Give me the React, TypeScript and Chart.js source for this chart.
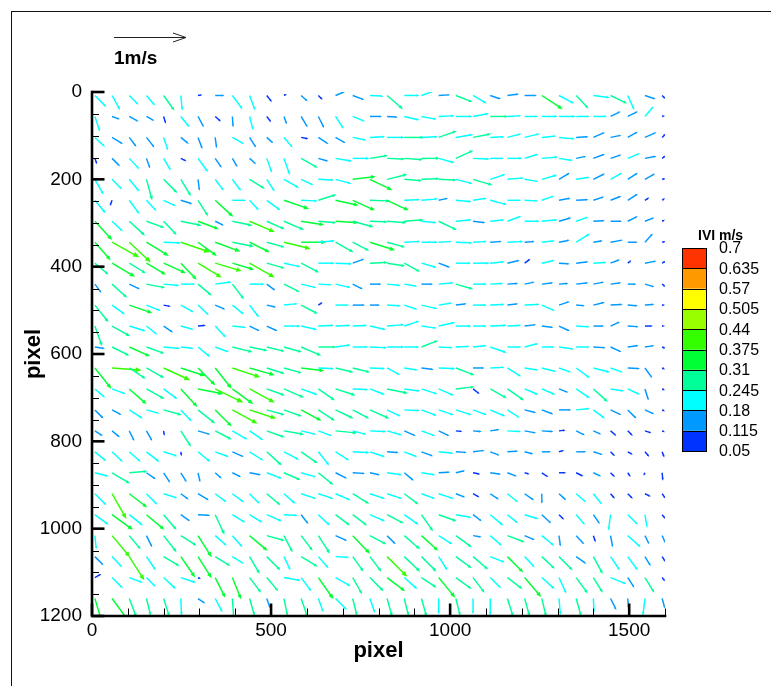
import React, { useEffect, useRef } from "react";
import { Chart, registerables } from "chart.js";

Chart.register(...registerables);

// ---------------- DATA ----------------
// grid point locations (pixel units of the PIV image)
const xGrid = [8, 56, 104, 152, 200, 248, 296, 344, 392, 440, 488, 536, 584, 632, 680, 728, 776,
  824, 872, 920, 968, 1016, 1064, 1112, 1160, 1208, 1256, 1304, 1352, 1400, 1448, 1496, 1544, 1592];
const yGrid = [8, 56, 104, 152, 200, 248, 296, 344, 392, 440, 488, 536, 584, 632, 680, 728, 776,
  824, 872, 920, 968, 1016, 1064, 1112, 1160];

// velocity components (m/s); u to the right, v downward (image direction)
const u00 = [0.16, 0.11, 0.13, 0.12, 0.15, 0.02, 0.06, 0.13, 0.14, 0.08, 0.07, 0.04, 0.09, 0.06, 0.14, 0.16, 0.19, 0.22, 0.21, 0.17, 0.16, 0.23, 0.19, 0.15, 0.16, 0.17, 0.29, 0.21, 0.17, 0.23, 0.23, 0.09, 0.15, 0.05];
const v00 = [0.16, 0.20, 0.13, 0.14, 0.21, 0.21, -0.01, 0, 0.19, 0.21, 0.09, -0.02, 0.08, 0.06, -0.06, 0.06, 0.01, 0.19, 0, -0.06, -0.01, 0.09, 0.11, 0.05, -0.02, 0, 0.19, 0.11, 0.18, 0.03, 0.11, 0.20, 0.05, 0.05];
const u01 = [0.07, 0.11, 0.13, 0.11, 0.03, 0.12, 0.08, 0.08, 0.01, 0.05, 0.06, 0.04, 0.09, 0.08, 0.11, 0.17, 0.17, 0.15, 0.21, 0.21, 0.22, 0.23, 0.22, 0.25, 0.19, 0.19, 0.22, 0.23, 0.19, 0.19, 0.14, 0.14, 0.12, 0.04];
const v01 = [0.21, 0.04, 0.07, 0.06, 0.10, 0.15, 0.15, 0.07, 0.15, 0.19, 0.08, 0.11, 0.15, 0.16, 0.17, 0.07, 0, 0.01, 0.05, 0.04, -0.01, 0, -0.04, 0, -0.01, 0, 0, 0, 0, 0, -0.07, -0.07, -0.14, -0.01];
const u02 = [0.14, 0.15, 0.10, 0.11, 0.06, 0.11, 0.06, 0.02, 0.16, 0.09, 0.09, 0.12, 0.10, 0.14, 0.14, 0.19, 0.21, 0.24, 0.28, 0.23, 0.25, 0.24, 0.25, 0.20, 0.19, 0.21, 0.20, 0.22, 0.17, 0.16, 0.15, 0.14, 0.16, 0.05];
const v02 = [0.13, 0.09, 0.13, 0.14, 0.18, 0.09, 0.16, 0.15, 0.09, 0.14, 0.08, 0.14, 0.02, 0.09, 0.08, 0.04, -0.01, 0, 0, -0.01, -0.09, -0.04, -0.05, -0.01, -0.05, -0.05, -0.02, 0.02, -0.01, -0.07, -0.03, -0.08, -0.07, -0.05];
const u03 = [0.03, 0.11, 0.14, 0.05, 0.10, 0.08, 0.14, 0.09, 0.07, 0.09, 0.07, 0.08, 0.23, 0.14, 0.23, 0.23, 0.25, 0.25, 0.26, 0.25, 0.22, 0.24, 0.23, 0.19, 0.21, 0.19, 0.23, 0.19, 0.14, 0.16, 0.15, 0.17, 0.16, 0.05];
const v03 = [0.08, 0.11, 0.15, 0.14, 0.17, 0.04, 0.19, 0.13, 0.12, 0.08, 0.20, 0.23, 0.13, 0.04, 0.04, 0, -0.04, 0.01, 0.02, 0, 0.06, -0.11, 0.01, 0, 0, -0.06, -0.02, 0.03, -0.03, -0.06, -0.05, -0.07, -0.03, -0.04];
const u04 = [0.12, 0.14, 0.14, 0.08, 0.19, 0.14, 0.02, 0.12, 0.12, 0.21, 0.11, 0.21, 0.17, 0.22, 0.22, 0.32, 0.31, 0.28, 0.25, 0.25, 0.25, 0.23, 0.27, 0.21, 0.23, 0.19, 0.21, 0.15, 0.19, 0.16, 0.16, 0.14, 0.14, 0.05];
const v04 = [0.21, 0.14, 0.17, 0.29, 0.19, 0.23, 0.16, 0.16, 0.16, 0.13, 0.17, 0.12, 0.08, 0.01, 0.06, -0.04, 0.15, -0.07, 0.02, -0.01, 0.01, 0.06, 0.08, -0.07, -0.02, 0.03, -0.06, -0.09, -0.03, -0.08, -0.09, -0.09, -0.08, -0.01];
const u05 = [0.15, -0.03, 0.14, 0.14, 0.17, 0.16, 0.14, 0.25, 0.19, 0.13, 0.19, 0.35, 0.23, 0.25, 0.32, 0.31, 0.28, 0.30, 0.22, 0.23, 0.13, 0.22, 0.19, 0.23, 0.19, 0.19, 0.17, 0.16, 0.17, 0.15, 0.15, 0.14, 0.06, 0.04];
const v05 = [0.18, 0.08, 0.19, 0.15, 0.08, 0.05, 0.22, 0.23, 0, 0.14, 0.14, 0.12, 0.01, -0.08, 0.07, 0.14, 0.01, 0.14, -0.01, -0.02, -0.03, 0.02, -0.03, 0.06, 0, 0.01, -0.06, -0.03, -0.01, -0.05, -0.06, -0.09, -0.04, -0.03];
const u06 = [0.24, 0.15, 0.22, 0.25, 0.18, 0.29, 0.29, 0.12, 0.28, 0.35, 0.25, 0.28, 0.32, 0.25, 0.32, 0.29, 0.25, 0.27, 0.27, 0.21, 0.25, 0.22, 0.17, 0.20, 0.19, 0.21, 0.22, 0.17, 0.17, 0.16, 0.16, 0.14, 0.13, 0.04];
const v06 = [0.26, 0.14, 0.20, 0.09, 0.19, 0.06, 0.11, 0.06, 0.06, 0.15, 0.11, 0.12, 0.05, 0.02, 0.02, 0.08, 0.01, 0.02, -0.02, 0.02, 0.12, -0.02, 0.02, -0.02, -0.07, 0, -0.02, -0.05, -0.06, -0.01, 0, -0.07, -0.05, -0.02];
const u07 = [0.22, 0.38, 0.30, 0.31, 0.24, 0.41, 0.26, 0.35, 0.30, 0.28, 0.25, 0.37, 0.35, 0.23, 0.25, 0.23, 0.35, 0.25, 0.22, 0.23, 0.18, 0.23, 0.19, 0.16, 0.22, 0.14, 0.18, 0.15, 0.19, 0.13, 0.17, 0.14, 0.11, 0.05];
const v07 = [0.25, 0.21, 0.28, 0.19, 0.01, 0.14, 0.19, 0.13, 0.06, 0.14, 0.07, 0.09, 0, -0.02, 0.14, 0.12, 0.11, 0.07, -0.01, 0, -0.01, 0.01, -0.01, -0.01, -0.01, -0.01, -0.02, -0.03, -0.12, -0.02, -0.03, 0, -0.12, -0.01];
const u08 = [0.19, 0.32, 0.23, 0.27, 0.31, 0.22, 0.33, 0.37, 0.30, 0.35, 0.25, 0.23, 0.25, 0.23, 0.23, 0.16, 0.25, 0.25, 0.22, 0.21, 0.16, 0.21, 0.23, 0.20, 0.17, 0.08, 0.18, 0.15, 0.17, 0.18, 0.13, 0.05, 0.16, 0.05];
const v08 = [0.16, 0.19, 0.14, 0.16, 0.14, 0.23, 0.20, 0.11, 0.09, 0.20, 0.07, 0.05, 0.13, 0, 0.01, -0.06, -0.01, 0.04, 0.12, 0.06, 0.06, 0, 0, -0.02, -0.04, -0.06, -0.04, 0.01, -0.02, -0.01, -0.05, -0.04, -0.03, -0.03];
const u09 = [0.09, 0.21, 0.15, 0.26, 0.22, 0.20, 0.19, 0.23, 0.16, 0.21, 0.12, 0.22, 0.21, 0.19, 0.21, 0.14, 0.16, 0.19, 0.18, 0.16, 0.21, 0.24, 0.19, 0.18, 0.15, 0.14, 0.16, 0.13, 0.17, 0.15, 0.15, 0.12, 0.13, 0.05];
const v09 = [0.12, 0.19, 0.07, 0.05, 0.02, 0, 0.16, -0.03, 0.21, 0, 0.09, 0.11, 0.05, 0.01, 0.05, 0.07, 0, 0.02, 0.03, 0, -0.02, 0.07, 0, -0.01, -0.01, -0.03, -0.02, -0.01, -0.02, -0.03, -0.02, 0, 0.04, 0.04];
const u10 = [0.19, 0.18, 0.32, 0.20, 0.10, 0.18, 0.15, 0.14, 0.16, 0.13, 0.13, 0.19, 0.23, 0.06, 0.19, 0.17, 0.14, 0.19, 0.18, 0.22, 0.19, 0.15, 0.19, 0.20, 0.15, 0.21, 0.18, 0.15, 0.12, 0.16, 0.17, 0.14, 0.13, 0.04];
const v10 = [0.24, 0.13, 0.11, 0.08, 0.02, 0.10, 0.14, 0.06, 0.13, 0.17, 0.03, -0.02, 0.12, -0.04, 0, 0, 0, 0.01, 0.06, 0.05, -0.03, -0.02, 0, -0.01, -0.02, -0.01, 0.08, -0.05, 0.01, -0.04, -0.01, 0.01, -0.01, 0];
const u11 = [0.10, 0.25, 0.23, 0.15, 0.13, 0.18, 0.11, 0.15, 0.19, 0.14, 0.15, 0.23, 0.22, 0.22, 0.21, 0.20, 0.22, 0.24, 0.21, 0.21, 0.23, 0.22, 0.19, 0.23, 0.19, 0.16, 0.16, 0.15, 0.19, 0.15, 0.13, 0.15, 0.11, 0.04];
const v11 = [0.28, 0.14, 0.07, 0.12, 0.09, 0.05, -0.01, 0.16, 0.02, 0.07, 0.07, 0, 0.05, -0.01, -0.01, -0.01, 0.05, -0.02, -0.07, 0.03, -0.05, 0, 0, -0.01, -0.01, -0.02, 0.02, 0.07, 0.01, 0, -0.06, 0.01, 0, 0];
const u12 = [0.14, 0.24, 0.29, 0.25, 0.23, 0.18, 0.17, 0.19, 0.28, 0.25, 0.25, 0.25, 0.28, 0.25, 0.21, 0.22, 0.24, 0.24, 0.21, 0.23, 0.20, 0.19, 0.19, 0.23, 0.19, 0.19, 0.18, 0.21, 0.19, 0.17, 0.15, 0.15, 0.13, 0.05];
const v12 = [0.02, 0.12, 0.13, 0.09, 0.02, 0.02, 0.14, 0.07, 0.07, 0.05, 0.06, 0.07, 0.12, 0, -0.03, 0, 0.01, 0, 0, -0.09, 0.01, -0.01, -0.02, 0.08, 0, -0.05, 0, 0.03, 0, 0.01, 0.07, -0.02, -0.02, 0.02];
const u13 = [0.23, 0.41, 0.23, 0.25, 0.37, 0.34, 0.24, 0.23, 0.39, 0.35, 0.25, 0.25, 0.32, 0.22, 0.25, 0.24, 0.21, 0.18, 0.19, 0.17, 0.23, 0.26, 0.16, 0.20, 0.19, 0.19, 0.20, 0.17, 0.19, 0.23, 0.17, 0.17, 0.10, 0.04];
const v13 = [0.29, 0.03, 0.15, 0.14, 0.17, 0.11, 0.24, 0.29, 0.13, 0.10, 0.08, 0.07, 0.04, 0.01, 0.06, 0.06, 0.01, 0.10, 0.03, 0.02, 0.01, 0.10, 0, -0.01, 0.12, 0.03, 0.05, 0.06, 0.14, 0.06, 0.06, 0.01, 0.14, 0.02];
const u14 = [0.14, 0.19, 0.24, 0.25, 0.19, 0.23, 0.35, 0.39, 0.29, 0.35, 0.25, 0.28, 0.23, 0.23, 0.28, 0.22, 0.21, 0.29, 0.22, 0.22, 0.21, 0.26, 0.09, 0.23, 0.23, 0.19, 0.19, 0.13, 0.19, 0.20, 0.19, 0.17, 0.05, 0.04];
const v14 = [0.12, 0.07, 0.21, 0.14, 0.14, 0.25, 0.07, 0.19, 0.21, 0.19, 0.09, 0.12, 0.08, 0.16, 0.09, 0.01, 0.08, 0.06, 0.03, 0.07, 0.09, -0.03, 0.07, 0.13, 0.16, 0.08, 0.08, 0.05, 0.13, 0.18, 0.03, 0.08, 0.16, 0.02];
const u15 = [0.12, 0.13, 0.19, 0.18, 0.25, 0.15, 0.24, 0.23, 0.35, 0.37, 0.25, 0.25, 0.28, 0.23, 0.25, 0.23, 0.27, 0.19, 0.22, 0.21, 0.21, 0.22, 0.19, 0.21, 0.17, 0.16, 0.16, 0.17, 0.19, 0.16, 0.15, 0.12, 0.13, 0.04];
const v15 = [0.12, 0.07, 0.12, 0.05, 0.07, 0.16, 0.19, 0.23, 0.19, 0.12, 0.07, 0.09, 0.15, 0.15, 0.12, 0.12, 0.12, 0.09, 0.01, 0.08, 0.07, 0.07, 0.07, 0.09, 0.11, 0.04, 0.06, 0, -0.02, 0.12, 0.07, 0.12, 0.06, 0.02];
const u16 = [0.11, 0.11, 0.07, 0.08, 0.01, 0.14, 0.17, 0.23, 0.21, 0.19, 0.25, 0.28, 0.21, 0.19, 0.30, 0.19, 0.23, 0.21, 0.16, 0.19, 0.15, 0.09, 0.12, 0.13, 0.19, 0.16, 0.16, 0.09, 0.12, 0.11, 0.08, 0.07, 0.09, 0.04];
const v16 = [0.07, 0.09, 0.14, 0.14, 0.07, 0.22, 0.05, 0.12, 0.12, 0.13, 0.09, 0.05, 0.05, 0.07, 0.03, 0.05, 0.01, 0.06, 0.07, 0.07, 0.07, 0.01, 0.01, -0.02, 0.01, 0.03, 0.01, -0.01, 0.06, 0.05, 0.07, 0.07, 0.03, 0.02];
const u17 = [0.16, 0.15, 0.16, 0.18, 0.19, 0.01, 0.17, 0.19, 0.16, 0.19, 0.21, 0.21, 0.23, 0.15, 0.19, 0.23, 0.21, 0.16, 0.18, 0.16, 0.21, 0.15, 0.16, 0.13, 0.15, 0.12, 0.13, 0.07, 0.14, 0.13, 0.06, 0.07, 0.06, 0.03];
const v17 = [0.13, 0.14, 0.14, 0.14, 0.06, 0.06, 0.14, 0.07, 0.07, 0.12, 0.19, 0.11, 0.16, 0.19, 0.12, 0.01, 0.07, 0.01, 0.07, 0.06, 0.02, 0.01, -0.02, 0.05, -0.01, 0.03, 0, -0.02, 0, 0.04, 0.06, 0.04, 0.07, 0.08];
const u18 = [0.19, 0.25, 0.25, 0.13, 0.09, 0.08, 0.03, 0.09, 0.12, 0.16, 0.21, 0.23, 0.21, 0.21, 0.16, 0.17, 0.14, 0.21, 0.13, 0.19, 0.16, 0.13, 0.10, 0.15, 0.13, 0.07, 0.09, 0.10, 0.10, 0.11, 0.06, 0.04, -0.02, 0.01];
const v18 = [0.05, 0.15, -0.02, 0.09, 0.14, 0.13, 0.13, 0.08, 0.06, 0.03, 0.08, 0.10, 0.06, 0.17, 0.08, 0.01, 0.03, 0.03, 0.11, 0.03, -0.01, -0.03, 0.02, 0.02, 0.05, 0.02, 0.06, 0, 0.05, 0.05, 0.06, 0.06, 0.04, 0.11];
const u19 = [0.16, 0.20, 0.25, 0.15, 0.19, 0.11, 0.15, 0.16, 0.16, 0.14, 0.19, 0.16, 0.21, 0.21, 0.21, 0.23, 0.21, 0.21, 0.20, 0.19, 0.21, 0.13, 0.09, 0.12, 0.15, 0.13, 0.00, 0.10, 0.14, 0.12, 0.06, 0.07, 0.08, 0.05];
const v19 = [0.16, 0.35, 0.19, 0.15, 0.06, 0.08, 0.09, 0.12, 0.12, 0.14, 0.16, 0.14, 0.07, 0.07, 0.09, 0.14, 0.07, 0.07, 0.15, 0.07, 0.07, 0.05, 0.05, 0.08, 0.12, 0.09, 0.14, 0.09, 0.12, 0.15, 0.07, 0.07, 0.04, 0.07];
const u20 = [0.19, 0.29, 0.19, 0.25, 0.18, 0.13, 0.17, 0.13, 0.18, 0.18, 0.21, 0.19, 0.10, 0.16, 0.20, 0.20, 0.21, 0.23, 0.20, 0.16, 0.25, 0.22, 0.12, 0.18, 0.15, 0.19, 0.13, 0.07, 0.12, 0.09, -0.03, 0.14, 0.03, 0.05];
const v20 = [0.14, 0.21, 0.15, 0.21, 0.21, 0.09, 0.01, 0.28, 0.11, 0.11, 0.09, 0.01, 0.13, 0.15, 0.15, 0.15, 0.09, 0.12, 0.14, 0.23, 0.09, 0.04, 0.09, 0.15, 0.12, 0.06, 0.12, 0.07, 0.14, 0.13, 0.22, 0.14, 0.18, 0.06];
const u21 = [0.02, 0.25, 0.16, 0.08, 0.18, 0.22, 0.19, 0.16, 0.14, 0.25, 0.25, 0.12, 0.16, 0.16, 0.16, 0.24, 0.23, 0.12, 0.22, 0.23, 0.19, 0.22, 0.12, 0.16, 0.24, 0.14, 0.17, 0.02, 0.11, 0.03, 0.03, 0.18, 0.06, 0.05];
const v21 = [0.19, 0.30, 0.19, 0.16, 0.23, 0.14, 0.30, 0.14, 0.16, 0.21, 0.07, 0.23, 0.21, 0.25, 0.07, 0.25, 0.12, 0.12, 0.19, 0.21, 0.12, 0.16, 0.02, 0.14, 0.09, 0.06, 0.14, 0.15, 0.12, 0.09, 0.16, 0.16, 0.12, 0.11];
const u22 = [0.12, 0.14, 0.21, 0.13, 0.22, 0.20, 0.19, 0.21, 0.16, 0.14, 0.19, 0.09, 0.23, 0.14, 0.19, 0.15, 0.16, 0.28, 0.22, 0.21, 0.12, 0.22, 0.21, 0.20, 0.22, 0.14, 0.18, 0.19, 0.14, 0.13, 0.13, 0.14, 0.08, 0.05];
const v22 = [0.12, 0.15, 0.33, 0.19, 0.13, 0.29, 0.30, 0.13, 0.10, 0.24, 0.19, 0.19, 0.14, 0.16, 0.01, 0.21, 0.21, 0.28, 0.21, 0.21, 0.19, 0.16, 0.18, 0.08, 0.22, 0.15, 0.17, 0.19, 0.10, 0.24, 0.19, 0.19, 0.13, 0.08];
const u23 = [0.09, 0.15, 0.19, 0.13, 0.17, 0.21, 0.04, 0.14, 0.12, 0.16, 0.16, 0.23, 0.14, 0.21, 0.21, 0.13, 0.19, 0.25, 0.18, 0.21, 0.23, 0.22, 0.16, 0.15, 0.21, 0.23, 0.18, 0.10, 0.16, 0.13, 0.22, 0.09, 0.13, 0.04];
const v23 = [-0.05, 0.15, 0.07, 0.13, 0.16, 0.07, 0.02, 0.28, 0.30, 0.21, 0.19, 0.04, 0.19, 0.30, 0.12, 0.23, 0.19, 0.19, 0.16, 0.14, 0.28, 0.16, 0.21, 0.15, 0.16, 0.27, 0.16, 0.22, 0.22, 0.21, 0.09, 0.14, 0.21, 0.05];
const u24 = [0.09, 0.22, 0.10, 0.06, 0.08, 0.01, 0.10, 0.10, 0.02, 0.07, 0.05, 0.05, 0.09, 0.07, 0.16, 0.06, 0.07, 0.07, 0.06, 0.07, 0.00, 0.06, 0.00, 0.00, 0.08, 0.07, 0.06, 0.02, 0.07, 0.01, 0.08, 0.01, -0.03, 0.04];
const v24 = [0.30, 0.30, 0.26, 0.24, 0.25, 0.24, 0.07, 0.19, 0.30, 0.24, 0.14, 0.24, 0.26, 0.19, 0.16, 0.24, 0.20, 0.25, 0.24, 0.25, 0.22, 0.24, 0.22, 0.24, 0.25, 0.25, 0.25, 0.23, 0.25, 0.19, 0.16, 0.14, 0.24, 0.14];

const uRows = [u00, u01, u02, u03, u04, u05, u06, u07, u08, u09, u10, u11, u12, u13, u14, u15, u16, u17, u18, u19, u20, u21, u22, u23, u24];
const vRows = [v00, v01, v02, v03, v04, v05, v06, v07, v08, v09, v10, v11, v12, v13, v14, v15, v16, v17, v18, v19, v20, v21, v22, v23, v24];

// axes / legend
const xTickValues = [0, 500, 1000, 1500];
const xMinorTicks = [100, 200, 300, 400, 600, 700, 800, 900, 1100, 1200, 1300, 1400, 1600];
const yTickValues = [0, 200, 400, 600, 800, 1000, 1200];
const yMinorTicks = [50, 100, 150, 250, 300, 350, 450, 500, 550, 650, 700, 750, 850, 900, 950, 1050, 1100, 1150];
const legendLevels = [0.05, 0.115, 0.18, 0.245, 0.31, 0.375, 0.44, 0.505, 0.57, 0.635, 0.7];
const legendTitle = "IVI m/s";
const refSpeed = 1;
const refLabel = "1m/s";
const xTitle = "pixel";
const yTitle = "pixel";

// ---------------- STYLE ----------------
const W = 771;
const H = 686;
const REF_PX = 72; // screen length of a 1 m/s vector
const FONT = "'Liberation Sans', Arial, Helvetica, sans-serif";
const CMAP: [number, number[]][] = [
  [0, [0, 0, 255]],
  [0.25, [0, 255, 255]],
  [0.5, [0, 255, 0]],
  [0.75, [255, 255, 0]],
  [1, [255, 0, 0]],
];

function cmap(s: number): string {
  const t = Math.max(0, Math.min(1, s));
  for (let i = 0; i < CMAP.length - 1; i++) {
    const [a, ca] = CMAP[i];
    const [b, cb] = CMAP[i + 1];
    if (t <= b) {
      const f = (t - a) / (b - a);
      const c = ca.map((v, k) => Math.round(v + (cb[k] - v) * f));
      return `rgb(${c[0]},${c[1]},${c[2]})`;
    }
  }
  return "rgb(255,0,0)";
}

const nBands = legendLevels.length - 1;
function bandIndex(m: number): number {
  for (let i = 0; i < nBands; i++) {
    if (m < legendLevels[i + 1]) return i;
  }
  return nBands - 1;
}
function bandColor(i: number): string {
  return cmap((i + 0.5) / nBands);
}

function drawArrow(ctx: CanvasRenderingContext2D, x0: number, y0: number, dx: number, dy: number, color: string) {
  const len = Math.hypot(dx, dy);
  if (len < 0.3) return;
  const ux = dx / len;
  const uy = dy / len;
  const hl = Math.min(7, Math.max(2.5, len * 0.2));
  const hw = hl * 0.42;
  const x1 = x0 + dx;
  const y1 = y0 + dy;
  const bx = x1 - ux * hl;
  const by = y1 - uy * hl;
  ctx.strokeStyle = color;
  ctx.fillStyle = color;
  ctx.lineWidth = 1.45;
  ctx.beginPath();
  ctx.moveTo(x0, y0);
  ctx.lineTo(bx + ux * 0.5, by + uy * 0.5);
  ctx.stroke();
  ctx.beginPath();
  ctx.moveTo(x1, y1);
  ctx.lineTo(bx - uy * hw, by + ux * hw);
  ctx.lineTo(bx + uy * hw, by - ux * hw);
  ctx.closePath();
  ctx.fill();
}

const quiverPlugin = {
  id: "quiver",
  afterDatasetsDraw(chart: any) {
    const ctx: CanvasRenderingContext2D = chart.ctx;
    const a = chart.chartArea;
    const meta = chart.getDatasetMeta(0);
    const raw = chart.data.datasets[0].data as any[];
    ctx.save();
    ctx.beginPath();
    ctx.rect(a.left, a.top, a.right - a.left, a.bottom - a.top);
    ctx.clip();
    meta.data.forEach((el: any, i: number) => {
      const d = raw[i];
      if (!d || d.u === undefined || d.v === undefined) return;
      const m = Math.hypot(d.u, d.v);
      drawArrow(ctx, el.x, el.y, d.u * REF_PX, d.v * REF_PX, bandColor(bandIndex(m)));
    });
    ctx.restore();
  },
  afterDraw(chart: any) {
    const ctx: CanvasRenderingContext2D = chart.ctx;
    const a = chart.chartArea;
    const xs = chart.scales.x;
    const ys = chart.scales.y;
    ctx.save();

    // outer frame
    ctx.strokeStyle = "#111";
    ctx.lineWidth = 1;
    ctx.strokeRect(11.5, 11.5, W + 40, H + 40);

    // axis lines
    ctx.strokeStyle = "#000";
    ctx.lineWidth = 2.6;
    ctx.lineCap = "square";
    ctx.beginPath();
    ctx.moveTo(a.left, a.top);
    ctx.lineTo(a.left, a.bottom);
    ctx.lineTo(a.right, a.bottom);
    ctx.stroke();
    ctx.lineCap = "butt";

    // ticks (inward)
    yTickValues.forEach((v) => {
      const y = ys.getPixelForValue(v);
      ctx.lineWidth = 2.6;
      ctx.beginPath();
      ctx.moveTo(a.left, y);
      ctx.lineTo(a.left + 12.5, y);
      ctx.stroke();
    });
    yMinorTicks.forEach((v) => {
      const y = Math.round(ys.getPixelForValue(v)) + 0.5;
      ctx.lineWidth = 1;
      ctx.beginPath();
      ctx.moveTo(a.left, y);
      ctx.lineTo(a.left + 7, y);
      ctx.stroke();
    });
    xTickValues.forEach((v) => {
      const x = xs.getPixelForValue(v);
      ctx.lineWidth = 2.6;
      ctx.beginPath();
      ctx.moveTo(x, a.bottom);
      ctx.lineTo(x, a.bottom - 12.5);
      ctx.stroke();
    });
    xMinorTicks.forEach((v) => {
      const x = Math.round(xs.getPixelForValue(v)) + 0.5;
      ctx.lineWidth = 1;
      ctx.beginPath();
      ctx.moveTo(x, a.bottom);
      ctx.lineTo(x, a.bottom - 7.5);
      ctx.stroke();
    });

    // axis titles
    ctx.fillStyle = "#000";
    ctx.font = `bold 22px ${FONT}`;
    ctx.textAlign = "center";
    ctx.textBaseline = "alphabetic";
    ctx.fillText(xTitle, (a.left + a.right) / 2, 657);
    ctx.save();
    ctx.translate(40, (a.top + a.bottom) / 2);
    ctx.rotate(-Math.PI / 2);
    ctx.fillText(yTitle, 0, 0);
    ctx.restore();

    // reference vector
    const rx = 114;
    const ry = 37;
    const rl = refSpeed * REF_PX;
    ctx.strokeStyle = "#222";
    ctx.lineWidth = 1;
    ctx.beginPath();
    ctx.moveTo(rx, ry + 0.5);
    ctx.lineTo(rx + rl, ry + 0.5);
    ctx.moveTo(rx + rl - 13, ry - 4);
    ctx.lineTo(rx + rl, ry + 0.5);
    ctx.lineTo(rx + rl - 13, ry + 5);
    ctx.stroke();
    ctx.font = `bold 19px ${FONT}`;
    ctx.textAlign = "left";
    ctx.fillStyle = "#000";
    ctx.fillText(refLabel, rx, 64);

    // colour legend
    const bx = 682;
    const bw = 24;
    const bTop = 248;
    const bBot = 451;
    const bh = (bBot - bTop) / nBands;
    for (let i = 0; i < nBands; i++) {
      const y1 = bBot - (i + 1) * bh;
      ctx.fillStyle = bandColor(i);
      ctx.fillRect(bx, y1, bw, bh);
    }
    ctx.strokeStyle = "#000";
    ctx.lineWidth = 1;
    for (let i = 1; i < nBands; i++) {
      const y = Math.round(bBot - i * bh) + 0.5;
      ctx.beginPath();
      ctx.moveTo(bx, y);
      ctx.lineTo(bx + bw, y);
      ctx.stroke();
    }
    ctx.strokeRect(bx + 0.5, bTop + 0.5, bw, bBot - bTop);
    ctx.fillStyle = "#000";
    ctx.font = `16px ${FONT}`;
    ctx.textAlign = "left";
    ctx.textBaseline = "middle";
    legendLevels.forEach((lv, i) => {
      ctx.fillText(String(lv), 719, bBot - i * bh + 1);
    });
    ctx.font = `bold 14px ${FONT}`;
    ctx.textBaseline = "alphabetic";
    ctx.fillText(legendTitle, 698, 240);

    ctx.restore();
  },
};

export default function App() {
  const ref = useRef<HTMLCanvasElement | null>(null);

  useEffect(() => {
    if (!ref.current) return;
    const points: any[] = [];
    yGrid.forEach((y, r) => {
      xGrid.forEach((x, c) => {
        points.push({ x, y, u: uRows[r][c], v: vRows[r][c] });
      });
    });

    const chart = new Chart(ref.current, {
      type: "scatter",
      data: {
        datasets: [
          {
            data: points,
            pointRadius: 0,
            pointHoverRadius: 0,
            showLine: false,
          },
        ],
      },
      options: {
        responsive: false,
        animation: false,
        devicePixelRatio: 1,
        events: [],
        layout: { padding: { left: 12, right: W - 665, top: 92, bottom: 10 } },
        plugins: {
          legend: { display: false },
          tooltip: { enabled: false },
          title: { display: false },
        },
        scales: {
          x: {
            type: "linear",
            min: 0,
            max: 1600,
            grid: { display: false, drawTicks: false },
            border: { display: false },
            afterBuildTicks: (s: any) => {
              s.ticks = xTickValues.map((value) => ({ value }));
            },
            afterFit: (s: any) => {
              s.height = 60;
            },
            ticks: {
              autoSkip: false,
              maxRotation: 0,
              padding: 3,
              color: "#000",
              font: { family: FONT, size: 19 },
              callback: (v: any) => String(v),
            },
          },
          y: {
            type: "linear",
            min: 0,
            max: 1200,
            reverse: true,
            grid: { display: false, drawTicks: false },
            border: { display: false },
            afterBuildTicks: (s: any) => {
              s.ticks = yTickValues.map((value) => ({ value }));
            },
            afterFit: (s: any) => {
              s.width = 80;
            },
            ticks: {
              autoSkip: false,
              padding: 10,
              color: "#000",
              font: { family: FONT, size: 19 },
              callback: (v: any) => String(v),
            },
          },
        },
      },
      plugins: [quiverPlugin],
    });
    return () => chart.destroy();
  }, []);

  return (
    <div style={{ position: "absolute", left: 0, top: 0, width: W, height: H, background: "#fff" }}>
      <canvas ref={ref} width={W} height={H} style={{ display: "block", width: W, height: H }} />
    </div>
  );
}
